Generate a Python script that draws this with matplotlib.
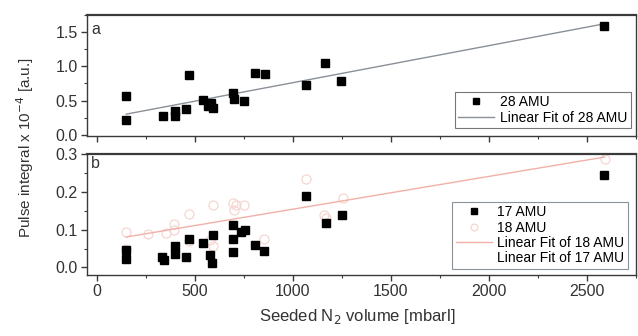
import numpy as np
import matplotlib
matplotlib.use('Agg')
import matplotlib.pyplot as plt
from matplotlib.ticker import MultipleLocator

plt.rcParams['font.family'] = ['Liberation Sans', 'DejaVu Sans']

# panel a : 28 AMU
x28 = [151, 151, 337, 401, 401, 456, 469, 545, 570, 583, 591, 693, 701, 752,
       806, 857, 1065, 1164, 1248, 2587]
y28 = [0.56, 0.21, 0.27, 0.35, 0.27, 0.37, 0.87, 0.51, 0.42, 0.46, 0.39, 0.61,
       0.52, 0.50, 0.91, 0.89, 0.73, 1.05, 0.78, 1.59]

# panel b : 17 AMU
x17 = [151, 151, 334, 346, 401, 401, 456, 469, 540, 578, 590, 595, 693, 697,
       697, 735, 755, 806, 854, 1065, 1167, 1251, 2587]
y17 = [0.023, 0.045, 0.027, 0.020, 0.056, 0.036, 0.027, 0.076, 0.064, 0.032,
       0.011, 0.085, 0.111, 0.074, 0.041, 0.094, 0.100, 0.060, 0.043, 0.188,
       0.118, 0.138, 0.244]

# panel b : 18 AMU
x18 = [151, 151, 261, 354, 396, 396, 472, 469, 578, 591, 591, 693, 701, 711,
       752, 854, 1065, 1158, 1167, 1255, 2590]
y18 = [0.095, 0.048, 0.088, 0.092, 0.115, 0.098, 0.142, 0.070, 0.072, 0.058,
       0.165, 0.170, 0.152, 0.165, 0.165, 0.076, 0.235, 0.140, 0.130, 0.185,
       0.286]

xticks = [0, 500, 1000, 1500, 2000, 2500]

fig = plt.figure(figsize=(6.38, 3.36), dpi=100)
ax1 = fig.add_axes([0.136, 0.595, 0.861, 0.360])
ax2 = fig.add_axes([0.136, 0.1815, 0.861, 0.360])

spine_col = '#3a3a3a'
txt_col = '#333333'


def style(ax):
    ax.set_xlim(-50, 2750)
    ax.xaxis.set_major_locator(MultipleLocator(500))
    ax.xaxis.set_minor_locator(MultipleLocator(250))
    ax.tick_params(axis='both', which='major', direction='out', length=4,
                   width=1, colors=spine_col, labelsize=11.5, labelcolor=txt_col,
                   pad=2.5)
    ax.tick_params(axis='both', which='minor', direction='out', length=2.5,
                   width=0.8, colors=spine_col)
    for s in ax.spines.values():
        s.set_color(spine_col)
        s.set_linewidth(1.0)
    ax.spines['top'].set_linewidth(1.6)


# --- panel a
style(ax1)
ax1.set_ylim(-0.02, 1.75)
ax1.yaxis.set_minor_locator(MultipleLocator(0.25))
ax1.set_yticks([0.0, 0.5, 1.0, 1.5])
ax1.set_yticklabels(['0.0', '0.5', '1.0', '1.5'])
ax1.tick_params(axis='x', labelbottom=False)

p28 = np.polyfit(x28, y28, 1)
xf = np.array([min(x28), max(x28)])
ax1.plot(x28, y28, 's', color='black', markersize=6.3, label='28 AMU', zorder=3)
ax1.plot(xf, np.polyval(p28, xf), '-', color='#8a9098', lw=1,
         label='Linear Fit of 28 AMU', zorder=2)
ax1.text(0.008, 0.94, 'a', transform=ax1.transAxes, fontsize=11.5,
         color=txt_col, va='top', ha='left')
leg1 = ax1.legend(loc='lower right', bbox_to_anchor=(0.99, 0.066), fontsize=10,
                  frameon=True, fancybox=False, edgecolor='#555555',
                  borderpad=0.25, handlelength=2.6, labelspacing=0.1,
                  handletextpad=0.4, borderaxespad=0, markerscale=0.75)
leg1.get_frame().set_linewidth(0.8)

# --- panel b
style(ax2)
ax2.set_ylim(-0.02, 0.3)
ax2.yaxis.set_minor_locator(MultipleLocator(0.05))
ax2.set_yticks([0.0, 0.1, 0.2, 0.3])
ax2.set_yticklabels(['0.0', '0.1', '0.2', '0.3'])
ax2.set_xticks(xticks)

p18 = np.polyfit(x18, y18, 1)
p17 = np.polyfit(x17, y17, 1)
xf18 = np.array([min(x18), max(x18)])
xf17 = np.array([min(x17), max(x17)])
# 17 AMU fit is drawn in white in the original, so it hides behind everything
f17, = ax2.plot(xf17, np.polyval(p17, xf17), '-', color='white', lw=1,
                label='Linear Fit of 17 AMU', zorder=1)
h17, = ax2.plot(x17, y17, 's', color='black', markersize=6.3, label='17 AMU',
                zorder=3)
h18, = ax2.plot(x18, y18, 'o', mfc='none', mec='#f5d6d0', mew=0.9,
                markersize=6.5, label='18 AMU', zorder=2)
f18, = ax2.plot(xf18, np.polyval(p18, xf18), '-', color='#f2b0a8', lw=1,
                label='Linear Fit of 18 AMU', zorder=2)
ax2.text(0.008, 0.985, 'b', transform=ax2.transAxes, fontsize=11.5,
         color=txt_col, va='top', ha='left')
leg2 = ax2.legend(handles=[h17, h18, f18, f17], loc='lower right',
                  bbox_to_anchor=(0.985, 0.05), fontsize=10, frameon=True,
                  fancybox=False, edgecolor='#6a7480', borderpad=0.25,
                  handlelength=2.6, labelspacing=0.1, handletextpad=0.4,
                  borderaxespad=0, markerscale=0.75)
leg2.get_frame().set_linewidth(0.8)

fig.text(0.04, 0.56, 'Pulse integral x 10$^{-4}$ [a.u.]', rotation=90,
         ha='center', va='center', fontsize=11, color=txt_col)
fig.text(0.56, 0.058, 'Seeded N$_2$ volume [mbarl]', ha='center', va='center',
         fontsize=12, color=txt_col)

fig.savefig('out.png', dpi=100)
